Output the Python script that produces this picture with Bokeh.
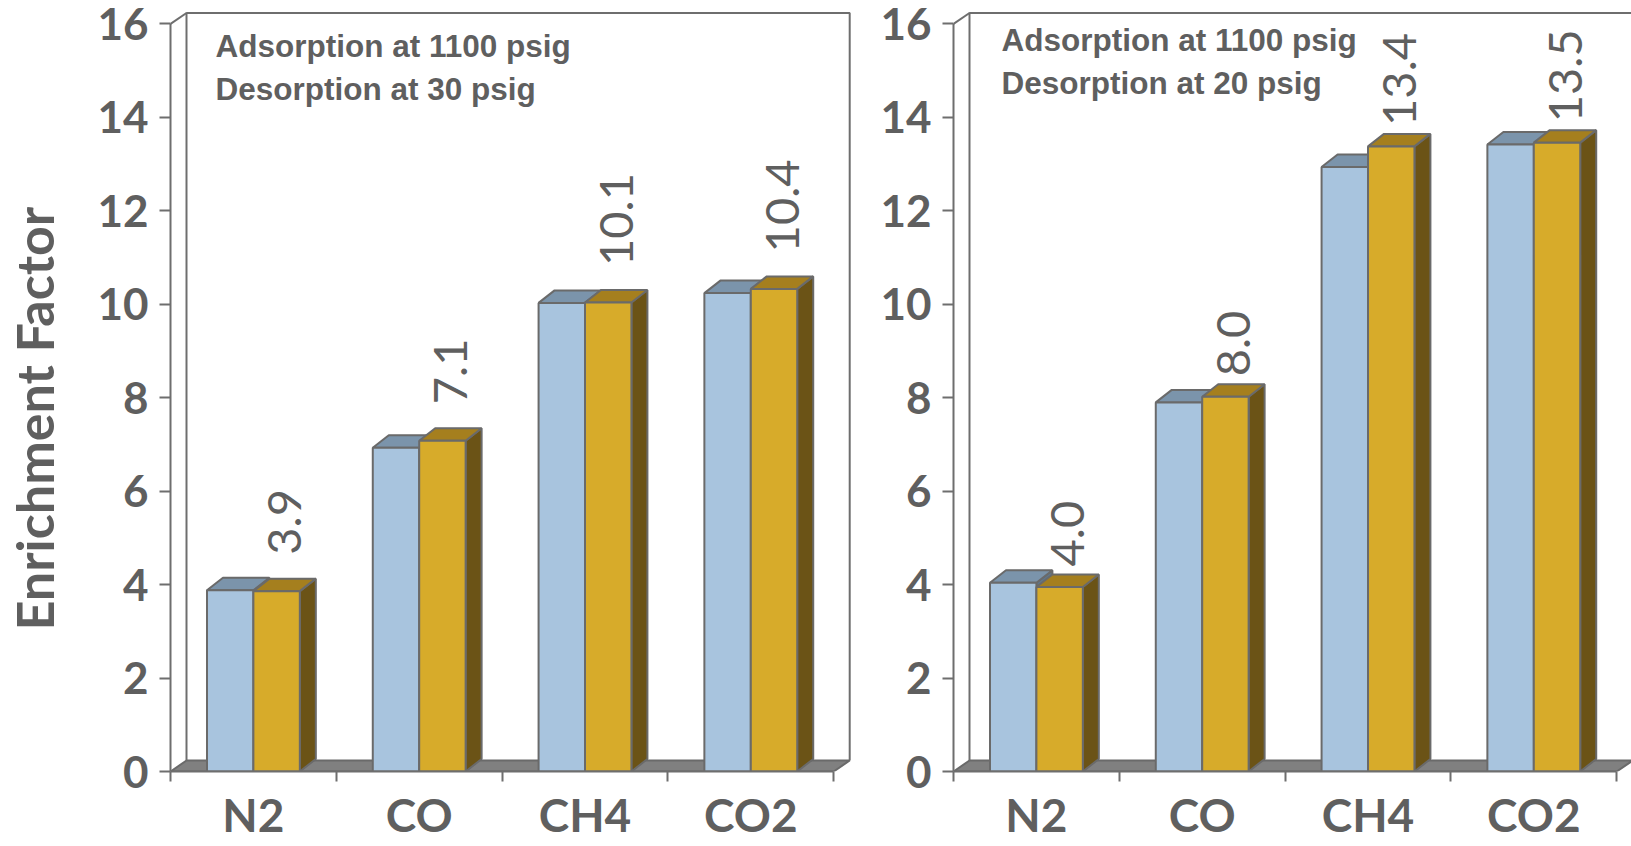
import math
from bokeh.plotting import figure
from bokeh.models import FixedTicker, Label, Range1d
from bokeh.layouts import row
from bokeh.embed import file_html
from bokeh.resources import INLINE
from bokeh.core.properties import value

# ---------------- data ----------------
categories = ["N2", "CO", "CH4", "CO2"]
left_blue = [3.88, 6.93, 10.03, 10.24]
left_gold = [3.86, 7.08, 10.04, 10.33]
left_labels = ["3.9", "7.1", "10.1", "10.4"]
right_blue = [4.04, 7.90, 12.94, 13.42]
right_gold = [3.95, 8.02, 13.38, 13.46]
right_labels = ["4.0", "8.0", "13.4", "13.5"]
left_notes = ["Adsorption at 1100 psig", "Desorption at 30 psig"]
right_notes = ["Adsorption at 1100 psig", "Desorption at 20 psig"]
y_ticks = [0, 2, 4, 6, 8, 10, 12, 14, 16]
y_title = "Enrichment Factor"

# ---------------- style / layout ----------------
CW = 165.8      # px per category
UH = 46.72      # px per y unit
H = 846
TOP = 10
BOTTOM = 75
FRAME_H = H - TOP - BOTTOM
ZERO_Y = TOP + FRAME_H          # screen y of value 0
BW = 0.28       # bar width in category units
BAR_DX, BAR_DY = 16 / CW, 12.5 / UH
WALL_DX, WALL_DY = 16 / CW, 11 / UH
TITLE_W = 70

TXT = "#5f5f5f"
AX = "#6e6e6e"
BLUE_F, BLUE_T, BLUE_S = "#a8c4de", "#7b94ab", "#5f768c"
GOLD_F, GOLD_T, GOLD_S = "#d7ab2a", "#a57f1e", "#6b5316"
EDGE = "#6a6a6a"
FLOOR = "#808080"


def make_panel(width, bl, br, blue, gold, labels, notes, note_x_px, note_y_px,
               label_gap_px):
    frame_w = width - bl - br
    p = figure(width=width, height=H, output_backend="svg", toolbar_location=None,
               x_range=Range1d(0, frame_w / CW), y_range=Range1d(0, FRAME_H / UH),
               min_border_left=bl, min_border_right=br,
               min_border_top=TOP, min_border_bottom=BOTTOM)
    p.outline_line_color = None
    p.xgrid.visible = False
    p.ygrid.visible = False
    p.background_fill_color = "white"
    p.border_fill_color = "white"

    n = len(categories)
    ymax = y_ticks[-1]
    # floor
    p.patch([0, n, n + WALL_DX, WALL_DX], [0, 0, WALL_DY, WALL_DY],
            fill_color=FLOOR, line_color=EDGE, line_width=2)
    # back wall + side wall outline
    p.line([WALL_DX, WALL_DX, n + WALL_DX, n + WALL_DX],
           [WALL_DY, ymax + WALL_DY, ymax + WALL_DY, WALL_DY],
           line_color=AX, line_width=2)
    p.line([0, WALL_DX], [ymax, ymax + WALL_DY], line_color=AX, line_width=2)

    def draw_series(vals, offs, cf, ct, cs):
        fx, fy, tx, ty, sx, sy = [], [], [], [], [], []
        for i, v in enumerate(vals):
            x0 = i + 0.5 + offs
            x1 = x0 + BW
            fx.append([x0, x1, x1, x0]); fy.append([0, 0, v, v])
            tx.append([x0, x1, x1 + BAR_DX, x0 + BAR_DX]); ty.append([v, v, v + BAR_DY, v + BAR_DY])
            sx.append([x1, x1 + BAR_DX, x1 + BAR_DX, x1]); sy.append([0, BAR_DY, v + BAR_DY, v])
        p.patches(sx, sy, fill_color=cs, line_color=EDGE, line_width=2)
        p.patches(tx, ty, fill_color=ct, line_color=EDGE, line_width=2)
        p.patches(fx, fy, fill_color=cf, line_color=EDGE, line_width=2)

    draw_series(blue, -BW, BLUE_F, BLUE_T, BLUE_S)
    draw_series(gold, 0.0, GOLD_F, GOLD_T, GOLD_S)

    # value labels above gold bars
    lx = [i + 0.5 + BW / 2 + BAR_DX / 2 for i in range(n)]
    ly = [g + (label_gap_px + 12.5) / UH for g in gold]
    p.text(x=lx, y=ly, text=labels, angle=math.pi / 2, text_align="left",
           text_baseline="middle", text_font=value("Lato"), text_font_size="47px",
           text_color=TXT)

    # notes
    for t, sy in zip(notes, note_y_px):
        p.add_layout(Label(x=note_x_px / CW, y=(ZERO_Y - sy) / UH, text=t,
                           text_font="Liberation Sans", text_font_style="bold",
                           text_font_size="31.5px", text_color=TXT,
                           text_baseline="alphabetic", text_align="left"))

    # x axis
    xa = p.xaxis[0]
    xa.ticker = FixedTicker(ticks=[i + 0.5 for i in range(n)],
                            minor_ticks=list(range(n + 1)))
    xa.major_label_overrides = {i + 0.5: c for i, c in enumerate(categories)}
    xa.bounds = (0, n)
    xa.axis_line_color = AX
    xa.axis_line_width = 2
    xa.major_tick_out = 0
    xa.major_tick_in = 0
    xa.minor_tick_out = 10
    xa.minor_tick_in = 0
    xa.minor_tick_line_color = AX
    xa.minor_tick_line_width = 2
    xa.major_label_standoff = 5
    xa.major_label_text_font = "Lato"
    xa.major_label_text_font_style = "bold"
    xa.major_label_text_font_size = "46px"
    xa.major_label_text_color = TXT

    # y axis
    ya = p.yaxis[0]
    ya.ticker = FixedTicker(ticks=y_ticks)
    ya.bounds = (0, ymax)
    ya.axis_line_color = AX
    ya.axis_line_width = 2
    ya.major_tick_out = 11
    ya.major_tick_in = 0
    ya.major_tick_line_color = AX
    ya.major_tick_line_width = 2
    ya.minor_tick_out = 0
    ya.minor_tick_in = 0
    ya.major_label_standoff = 11
    ya.major_label_text_font = "Lato"
    ya.major_label_text_font_style = "bold"
    ya.major_label_text_font_size = "44px"
    ya.major_label_text_color = TXT
    return p


# y-axis title strip (its frame is aligned with the panels' frames: y = px above zero line)
pt = figure(width=TITLE_W, height=H, output_backend="svg", toolbar_location=None,
            x_range=Range1d(0, TITLE_W), y_range=Range1d(0, FRAME_H),
            x_axis_type=None, y_axis_type=None,
            min_border_left=0, min_border_right=0,
            min_border_top=TOP, min_border_bottom=BOTTOM)
pt.outline_line_color = None
pt.xgrid.visible = False
pt.ygrid.visible = False
pt.text(x=[33], y=[ZERO_Y - 630], text=[y_title], angle=math.pi / 2, text_align="left",
        text_baseline="middle", text_font=value("Lato"), text_font_style="bold",
        text_font_size="52px", text_color=TXT)

p1 = make_panel(862 - TITLE_W, 170 - TITLE_W, 9, left_blue, left_gold, left_labels,
                left_notes, 45, [45.5, 88], 24)
p2 = make_panel(769, 91, 0, right_blue, right_gold, right_labels, right_notes,
                48, [39.5, 82], 8)

layout = row(pt, p1, p2)
open("out.html", "w").write(file_html(layout, INLINE))
